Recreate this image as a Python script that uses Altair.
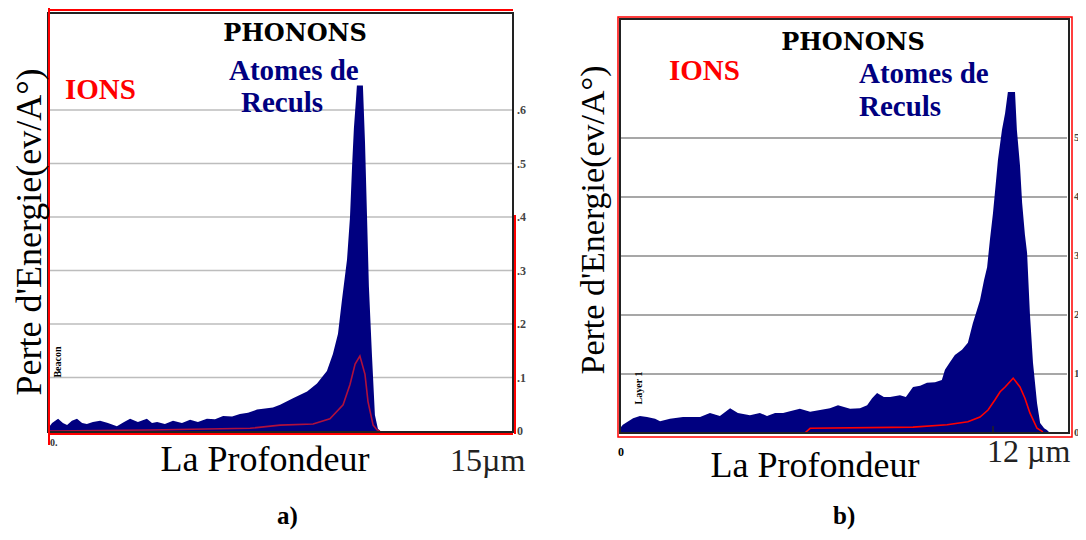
import altair as alt
import pandas as pd

# ---------------- data ----------------
# Panel a) : depth (µm) and energy loss (eV/Å)
left_depth = [0.00, 0.07, 0.27, 0.43, 0.57, 0.73, 0.90, 1.07, 1.23, 1.43, 1.67, 1.93, 2.23, 2.47,
              2.67, 2.93, 3.23, 3.40, 3.57, 3.83, 4.10, 4.40, 4.67, 4.93, 5.23, 5.50, 5.77, 6.07,
              6.33, 6.60, 6.90, 7.17, 7.43, 7.67, 8.10, 8.57, 8.90, 9.23, 9.43, 9.60, 9.73, 9.90,
              10.00, 10.07, 10.13, 10.20, 10.23, 10.43, 10.50, 10.57, 10.63, 10.73, 10.83, 10.93, 11.00]
left_recoils = [0.010, 0.015, 0.023, 0.015, 0.011, 0.019, 0.023, 0.015, 0.013, 0.017, 0.019, 0.015,
                0.009, 0.017, 0.023, 0.017, 0.023, 0.015, 0.017, 0.013, 0.019, 0.015, 0.021, 0.017,
                0.023, 0.022, 0.028, 0.027, 0.032, 0.034, 0.040, 0.042, 0.044, 0.049, 0.061, 0.074,
                0.089, 0.112, 0.144, 0.182, 0.244, 0.320, 0.400, 0.496, 0.566, 0.620, 0.646, 0.646,
                0.540, 0.396, 0.270, 0.144, 0.030, 0.004, 0.000]
left_ions_depth = [0.0, 3.3, 6.67, 7.67, 8.77, 9.33, 9.77, 10.0, 10.17, 10.33, 10.5, 10.6, 10.77, 10.9, 11.0]
left_ions = [0.0, 0.002, 0.005, 0.011, 0.013, 0.023, 0.049, 0.087, 0.125, 0.140, 0.106, 0.055, 0.011, 0.002, 0.0]
left_grid = [0.1, 0.2, 0.3, 0.4, 0.5, 0.6]
left_tick_values = [0.0, 0.1, 0.2, 0.3, 0.4, 0.5, 0.6]
left_tick_labels = ["0", ".1", ".2", ".3", ".4", ".5", ".6"]

# Panel b)
right_depth = [0.00, 0.06, 0.39, 0.61, 0.84, 1.10, 1.26, 1.58, 2.00, 2.23, 2.55, 2.87, 3.19, 3.52,
               3.77, 4.16, 4.48, 4.71, 4.97, 5.23, 5.45, 5.77, 6.10, 6.42, 6.74, 7.00, 7.39, 7.71,
               7.94, 8.10, 8.26, 8.48, 8.68, 9.00, 9.19, 9.42, 9.65, 9.87, 10.13, 10.35, 10.45,
               10.61, 10.77, 11.00, 11.19, 11.35, 11.48, 11.58, 11.71, 11.81, 11.90, 12.00, 12.10,
               12.16, 12.29, 12.39, 12.48, 12.71, 12.77, 12.87, 12.94, 13.03, 13.10, 13.19, 13.29,
               13.42, 13.52, 13.65, 13.74, 13.84]
right_recoils = [0.10, 0.14, 0.25, 0.29, 0.27, 0.24, 0.20, 0.24, 0.27, 0.27, 0.27, 0.34, 0.29, 0.42,
                 0.34, 0.30, 0.34, 0.29, 0.34, 0.34, 0.37, 0.41, 0.36, 0.39, 0.42, 0.47, 0.41, 0.42,
                 0.47, 0.59, 0.68, 0.61, 0.61, 0.64, 0.61, 0.78, 0.80, 0.85, 0.86, 0.90, 1.07, 1.20,
                 1.32, 1.41, 1.53, 1.86, 2.08, 2.25, 2.59, 2.81, 3.27, 3.73, 4.29, 4.63, 5.14, 5.42,
                 5.78, 5.78, 5.14, 4.54, 3.90, 3.36, 3.05, 2.03, 1.19, 0.51, 0.17, 0.08, 0.05, 0.0]
right_ions_depth = [0.0, 5.93, 6.10, 9.42, 10.52, 11.19, 11.58, 11.84, 12.06, 12.23, 12.39, 12.65,
                    12.87, 13.03, 13.19, 13.42, 13.61]
right_ions = [0.0, 0.0, 0.08, 0.10, 0.14, 0.19, 0.27, 0.39, 0.56, 0.70, 0.78, 0.93, 0.78, 0.59,
              0.34, 0.08, 0.02]
right_grid = [1, 2, 3, 4, 5]
right_tick_values = [0, 1, 2, 3, 4, 5]
right_tick_labels = ["0", "1", "2", "3", "4", "5"]
right_marked_depth = [12]

# ---------------- scales (pixel ranges inside the 1070x524 canvas) ----------------
LX = alt.Scale(domain=[0, 15], range=[42, 492], nice=False, zero=False)
LY = alt.Scale(domain=[0, 0.6], range=[423, 102], nice=False, zero=False)
RX = alt.Scale(domain=[0, 12], range=[613, 985], nice=False, zero=False)
RY = alt.Scale(domain=[0, 5], range=[425, 130], nice=False, zero=False)

NAVY = "#000080"
one = pd.DataFrame({"k": [0]})


def txt(s, x, y, size, color="black", bold=False, font="Liberation Serif",
        align="left", angle=0, baseline="alphabetic"):
    props = dict(text=s, align=align, baseline=baseline, font=font, fontSize=size,
                 color=color, fontWeight="bold" if bold else "normal")
    if angle:
        props["angle"] = angle
    return alt.Chart(one).mark_text(**props).encode(x=alt.value(x), y=alt.value(y))


def hline(x1, x2, y, color, w=2):
    return alt.Chart(one).mark_rule(color=color, strokeWidth=w).encode(
        x=alt.value(x1), x2=alt.value(x2), y=alt.value(y))


def vline(x, y1, y2, color, w=2):
    return alt.Chart(one).mark_rule(color=color, strokeWidth=w).encode(
        x=alt.value(x), y=alt.value(y1), y2=alt.value(y2))


def frame(x1, x2, y1, y2, color, w=2):
    return alt.Chart(one).mark_rect(fill="white", fillOpacity=0, stroke=color, strokeWidth=w).encode(
        x=alt.value(x1), x2=alt.value(x2), y=alt.value(y1), y2=alt.value(y2))


def panel(depth, rec, idepth, ions, grid, tvals, tlabels, XS, YS, gx1, gx2, gcolor, lx, ion_color, lab_size):
    d = pd.DataFrame({"depth": depth, "val": rec})
    di = pd.DataFrame({"depth": idepth, "val": ions})
    dg = pd.DataFrame({"g": grid})
    dt = pd.DataFrame({"v": tvals, "t": tlabels})
    gridc = alt.Chart(dg).mark_rule(color=gcolor, strokeWidth=1.5).encode(
        y=alt.Y("g:Q", scale=YS, axis=None), x=alt.value(gx1), x2=alt.value(gx2))
    area = alt.Chart(d).mark_area(color=NAVY, opacity=1).encode(
        x=alt.X("depth:Q", scale=XS, axis=None),
        y=alt.Y("val:Q", scale=YS, axis=None, stack=None),
        y2=alt.datum(0))
    line = alt.Chart(di).mark_line(color=ion_color, strokeWidth=1.6).encode(
        x=alt.X("depth:Q", scale=XS, axis=None),
        y=alt.Y("val:Q", scale=YS, axis=None))
    labels = alt.Chart(dt).mark_text(align="left", baseline="middle", font="Liberation Serif",
                                     fontSize=lab_size, fontWeight="bold", color="#444444").encode(
        y=alt.Y("v:Q", scale=YS, axis=None), x=alt.value(lx), text="t:N")
    return [gridc, area, line, labels]


left_layers = panel(left_depth, left_recoils, left_ions_depth, left_ions, left_grid,
                    left_tick_values, left_tick_labels, LX, LY, 40, 504, "#bdbdbd", 509, "#b0103c", 12)
right_layers = panel(right_depth, right_recoils, right_ions_depth, right_ions, right_grid,
                     right_tick_values, right_tick_labels, RX, RY, 612, 1059, "#8a8a8a", 1066, "#ff0000", 11)

tick12 = alt.Chart(pd.DataFrame({"d": right_marked_depth})).mark_rule(color="#222222", strokeWidth=1.5).encode(
    x=alt.X("d:Q", scale=RX, axis=None), y=alt.value(418), y2=alt.value(425))

deco = [
    # panel a) frame and red outline
    frame(40, 505, 5, 424, "#222222", 2),
    hline(40, 505, 2, "#ff0000", 2),
    vline(41, 0, 437, "#ff0000", 2),
    hline(40, 505, 426, "#ff0000", 2),
    vline(507, 207, 426, "#ff0000", 2),
    # panel b) frame and red outline
    frame(612, 1061, 11, 425, "#222222", 2),
    frame(610, 1064, 9, 429, "#ff0000", 1.5),
    tick12,
]

texts = [
    # panel a)
    txt("PHONONS", 287, 33, 24, bold=True, font="DejaVu Serif", align="center"),
    txt("IONS", 57, 91, 29, color="#ff0000", bold=True),
    txt("Atomes de", 221, 72, 29, color=NAVY, bold=True),
    txt("Reculs", 233, 104, 29, color=NAVY, bold=True),
    txt("Perte d'Energie(ev/A°)", 22, 224, 36, align="center", angle=270, baseline="middle"),
    txt("La Profondeur", 257, 463, 36, align="center"),
    txt("15µm", 442, 463, 32, color="#222222"),
    txt("0.", 42, 438, 10, bold=True, color="#333333"),
    txt("Beacon", 50, 354, 10, bold=True, align="center", angle=270, baseline="middle"),
    txt("a)", 269, 516, 25, bold=True),
    # panel b)
    txt("PHONONS", 845, 42, 24, bold=True, font="DejaVu Serif", align="center"),
    txt("IONS", 661, 72, 29, color="#ff0000", bold=True),
    txt("Atomes de", 851, 75, 29, color=NAVY, bold=True),
    txt("Reculs", 851, 108, 29, color=NAVY, bold=True),
    txt("Perte d'Energie(ev/A°)", 586, 212, 34, align="center", angle=270, baseline="middle"),
    txt("La Profondeur", 807, 469, 36, align="center"),
    txt("12 µm", 979, 454, 32, color="#222222"),
    txt("0", 613, 448, 12, bold=True, align="center"),
    txt("Layer 1", 631, 380, 10, bold=True, align="center", angle=270, baseline="middle"),
    txt("b)", 825, 516, 25, bold=True),
]

layers = left_layers[:1] + right_layers[:1] + left_layers[1:] + right_layers[1:] + deco + texts

chart = alt.layer(*layers).resolve_scale(x="independent", y="independent").properties(
    width=1070, height=524,
    autosize=alt.AutoSizeParams(type="none"),
    padding=0,
    background="white",
).configure_view(stroke=None)

chart.save("out.html", embed_options={"renderer": "svg", "actions": False})
